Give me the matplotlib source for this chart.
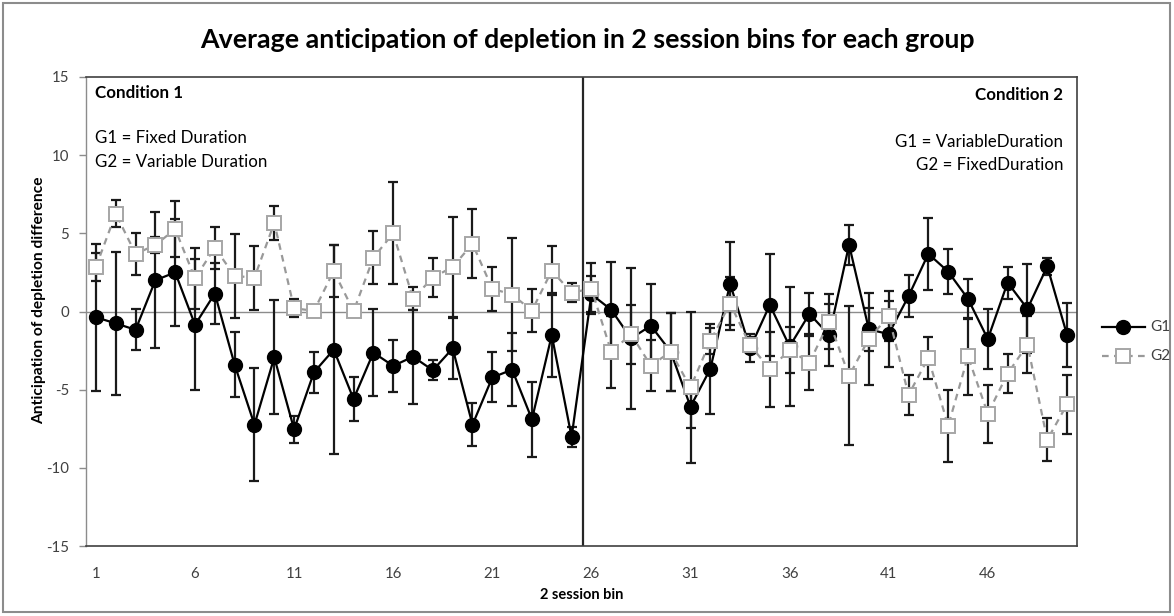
import matplotlib
matplotlib.use("Agg")
import matplotlib.pyplot as plt
from matplotlib.lines import Line2D
from matplotlib.patches import Rectangle

plt.rcParams['font.family'] = ['Lato', 'DejaVu Sans']

bins = list(range(1, 51))
g1_mean = [-0.37, -0.76, -1.17, 2.0, 2.5, -0.85, 1.15, -3.4, -7.24, -2.93,
           -7.54, -3.89, -2.44, -5.6, -2.63, -3.48, -2.89, -3.76, -2.36, -7.24,
           -4.22, -3.72, -6.9, -1.51, -8.03, 1.1, 0.11, -1.72, -0.91, -2.57,
           -6.09, -3.67, 1.78, -2.36, 0.42, -2.23, -0.15, -1.51, 4.27, -1.15,
           -1.44, 0.98, 3.69, 2.55, 0.81, -1.76, 1.85, 0.17, 2.89, -1.51]
g1_err = [4.7, 4.55, 1.3, 4.35, 3.4, 4.2, 1.93, 2.1, 3.6, 3.65,
          0.85, 1.3, 6.7, 1.43, 2.8, 1.65, 3.0, 0.64, 1.95, 1.38,
          1.6, 2.34, 2.38, 2.7, 0.63, 1.15, 3.07, 4.5, 2.7, 2.5,
          1.38, 2.87, 2.64, 0.9, 3.27, 3.8, 1.32, 1.97, 1.27, 1.4,
          2.08, 1.33, 2.3, 1.42, 1.29, 1.92, 1.02, 2.84, 0.55, 2.03]
g2_mean = [2.85, 6.26, 3.69, 4.25, 5.27, 2.12, 4.08, 2.27, 2.17, 5.67,
           0.21, 0.04, 2.59, 0.02, 3.44, 5.01, 0.83, 2.17, 2.85, 4.33,
           1.46, 1.08, 0.06, 2.61, 1.21, 1.46, -2.57, -1.46, -3.46, -2.57,
           -4.86, -1.89, 0.51, -2.14, -3.69, -2.46, -3.27, -0.64, -4.12, -1.74,
           -0.3, -5.33, -2.97, -7.32, -2.87, -6.54, -3.97, -2.12, -8.2, -5.94]
g2_err = [0.9, 0.86, 1.33, 0.53, 1.8, 1.96, 1.33, 2.7, 2.05, 1.1,
          0.57, 0.0, 1.66, 0.0, 1.7, 3.26, 0.74, 1.23, 3.18, 2.2,
          1.4, 3.62, 1.4, 1.57, 0.62, 1.62, 2.3, 1.9, 1.62, 2.5,
          4.85, 0.83, 1.68, 0.5, 2.4, 1.47, 1.72, 1.74, 4.44, 2.93,
          1.6, 1.26, 1.34, 2.3, 2.48, 1.87, 1.26, 1.81, 1.36, 1.88]
xtick_labels = [1, 6, 11, 16, 21, 26, 31, 36, 41, 46]
yticks = [-15, -10, -5, 0, 5, 10, 15]
series_names = ['G1', 'G2']

W, H = 1174, 616
fig = plt.figure(figsize=(W / 100, H / 100), dpi=100)


def fx(px):
    return px / W


def fy(py):
    return 1 - py / H


# chart border
fig.add_artist(Rectangle((fx(3), fy(612)), (W - 7) / W, (H - 7) / H,
                         transform=fig.transFigure, fill=False,
                         edgecolor='#8c8c8c', lw=1.5))

ax = fig.add_axes([fx(86), fy(546), (1077 - 86) / W, (546 - 77) / H])

ax.axhline(0, color='#8c8c8c', lw=1.0, zorder=1)
ax.axvline(25.6, color='#262626', lw=1.6, zorder=2)

ax.errorbar(bins, g1_mean, yerr=g1_err, fmt='none', ecolor='#1a1a1a',
            elinewidth=1.6, capsize=3.8, capthick=1.6, zorder=3)
ax.errorbar(bins, g2_mean, yerr=g2_err, fmt='none', ecolor='#1a1a1a',
            elinewidth=1.6, capsize=3.8, capthick=1.6, zorder=3)
g1_style = dict(color='black', lw=1.6, marker='o', markersize=10,
                markerfacecolor='black', markeredgecolor='black')
g2_style = dict(color='#999999', lw=1.6, linestyle=(0, (3, 2.4)),
                marker='s', markersize=9.5, markerfacecolor='white',
                markeredgecolor='#a6a6a6', markeredgewidth=1.4)
ax.plot(bins, g1_mean, zorder=4, **g1_style)
ax.plot(bins, g2_mean, zorder=5, **g2_style)

ax.set_xlim(0.5, 50.5)
ax.set_ylim(-15, 15)
ax.set_yticks(yticks)
ax.set_yticklabels([str(v) for v in yticks])
ax.set_xticks(xtick_labels)
ax.set_xticklabels([str(v) for v in xtick_labels])
ax.tick_params(axis='x', length=0, pad=15, labelsize=10.8, colors='#404040')
ax.tick_params(axis='y', length=5, width=1, color='#8c8c8c', pad=7,
               labelsize=10.8, labelcolor='#404040')
for s in ['top', 'right', 'bottom']:
    ax.spines[s].set_color('#404040')
    ax.spines[s].set_linewidth(1.2)
ax.spines['left'].set_color('#8c8c8c')
ax.spines['left'].set_linewidth(1.0)

ax.set_xlabel('2 session bin', fontsize=10.5, fontweight='bold', labelpad=5)
ax.set_ylabel('Anticipation of depletion difference', fontsize=11.2,
              fontweight='bold')
ax.yaxis.set_label_coords((46 - 86) / (1077 - 86), (546 - 300) / (546 - 77))

fig.text(0.5, fy(40), 'Average anticipation of depletion in 2 session bins for each group',
         ha='center', va='center', fontsize=19.3, fontweight='bold')

fs = 12.2
fig.text(fx(95), fy(93), 'Condition 1', fontsize=fs, fontweight='bold',
         ha='left', va='center')
fig.text(fx(95), fy(138), 'G1 = Fixed Duration', fontsize=fs, ha='left', va='center')
fig.text(fx(95), fy(162), 'G2 = Variable Duration', fontsize=fs, ha='left', va='center')
fig.text(fx(1063), fy(95), 'Condition 2', fontsize=fs, fontweight='bold',
         ha='right', va='center')
fig.text(fx(1063), fy(142), 'G1 = VariableDuration', fontsize=fs, ha='right', va='center')
fig.text(fx(1063), fy(165), 'G2 = FixedDuration', fontsize=fs, ha='right', va='center')

# legend (outside, right)
for name, style, py in [(series_names[0], g1_style, 327), (series_names[1], g2_style, 356)]:
    st = dict(style)
    st['markevery'] = [1]
    fig.add_artist(Line2D([fx(1102), fx(1123), fx(1145)], [fy(py)] * 3,
                          transform=fig.transFigure, **st))
    fig.text(fx(1150), fy(py), name, fontsize=11, ha='left', va='center',
             color='#404040')

fig.savefig('out.png', dpi=100)
